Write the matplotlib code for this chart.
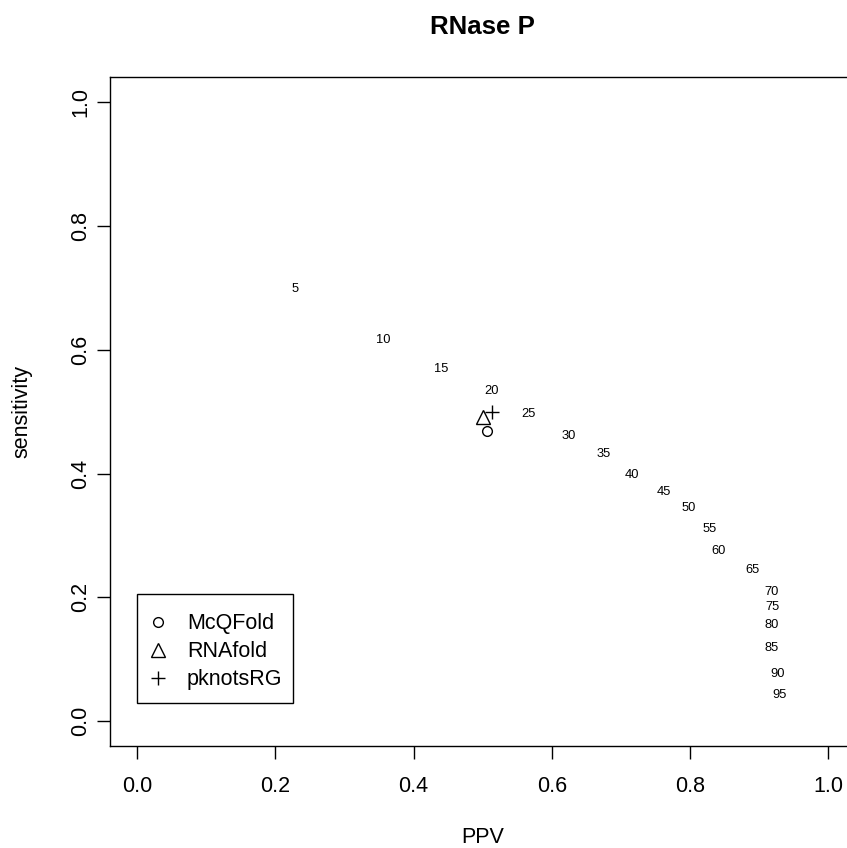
import matplotlib
matplotlib.use("Agg")
import matplotlib.pyplot as plt
from matplotlib.patches import Rectangle

plt.rcParams['font.family'] = ['Liberation Sans', 'DejaVu Sans']

# threshold labels and their (PPV, sensitivity) positions
thresholds = [5, 10, 15, 20, 25, 30, 35, 40, 45, 50, 55, 60, 65, 70, 75, 80, 85, 90, 95]
ppv = [0.229, 0.356, 0.440, 0.513, 0.567, 0.625, 0.675, 0.716, 0.763, 0.799,
       0.829, 0.842, 0.891, 0.918, 0.920, 0.919, 0.919, 0.927, 0.930]
sens = [0.698, 0.616, 0.569, 0.533, 0.496, 0.460, 0.432, 0.397, 0.370, 0.344,
        0.311, 0.275, 0.244, 0.209, 0.184, 0.155, 0.119, 0.077, 0.042]

# other predictors
methods = ['McQFold', 'RNAfold', 'pknotsRG']
method_ppv = [0.506, 0.500, 0.513]
method_sens = [0.469, 0.492, 0.499]
method_markers = ['o', '^', '+']
marker_sizes = [7, 9.5, 10]

ticks = [0.0, 0.2, 0.4, 0.6, 0.8, 1.0]
tick_labels = ['0.0', '0.2', '0.4', '0.6', '0.8', '1.0']

fs = 15.5

fig = plt.figure(figsize=(8.47, 8.48), dpi=100)
ax = fig.add_axes([109.7 / 847, 102 / 848, (855.6 - 109.7) / 847, (746 - 77.3) / 848])

for t, x, y in zip(thresholds, ppv, sens):
    ax.text(x, y, str(t), fontsize=fs * 0.6, ha='center', va='center')

for name, x, y, m, ms in zip(methods, method_ppv, method_sens, method_markers, marker_sizes):
    ax.plot(x, y, linestyle='none', marker=m, markersize=ms,
            markerfacecolor='none', markeredgecolor='black', markeredgewidth=1,
            label=name, color='black')

ax.set_xlim(-0.04, 1.04)
ax.set_ylim(-0.04, 1.04)
ax.set_xticks(ticks)
ax.set_yticks(ticks)
ax.set_xticklabels(tick_labels)
ax.set_yticklabels(tick_labels, rotation=90, va='center')
ax.tick_params(direction='out', length=9.4, width=1, labelsize=fs)
ax.tick_params(axis='x', pad=12)
ax.tick_params(axis='y', pad=4)
for s in ax.spines.values():
    s.set_linewidth(1)

ax.set_xlabel('PPV', fontsize=fs, labelpad=22)
ax.set_ylabel('sensitivity', fontsize=fs, labelpad=27)
ax.set_title('RNase P', fontsize=fs * 1.2, fontweight='bold', pad=31)

# legend entries without frame, frame drawn as a box in data units
leg = ax.legend(loc='upper left', bbox_to_anchor=(0.0, 0.192), bbox_transform=ax.transData,
                borderaxespad=0, frameon=False, fontsize=fs, handlelength=0.93,
                handletextpad=0.86, borderpad=0.51, labelspacing=0.32)
ax.add_patch(Rectangle((0.0, 0.029), 0.2254, 0.176, fill=False, edgecolor='black',
                       linewidth=1, zorder=5))

fig.savefig('out.png', dpi=100)
